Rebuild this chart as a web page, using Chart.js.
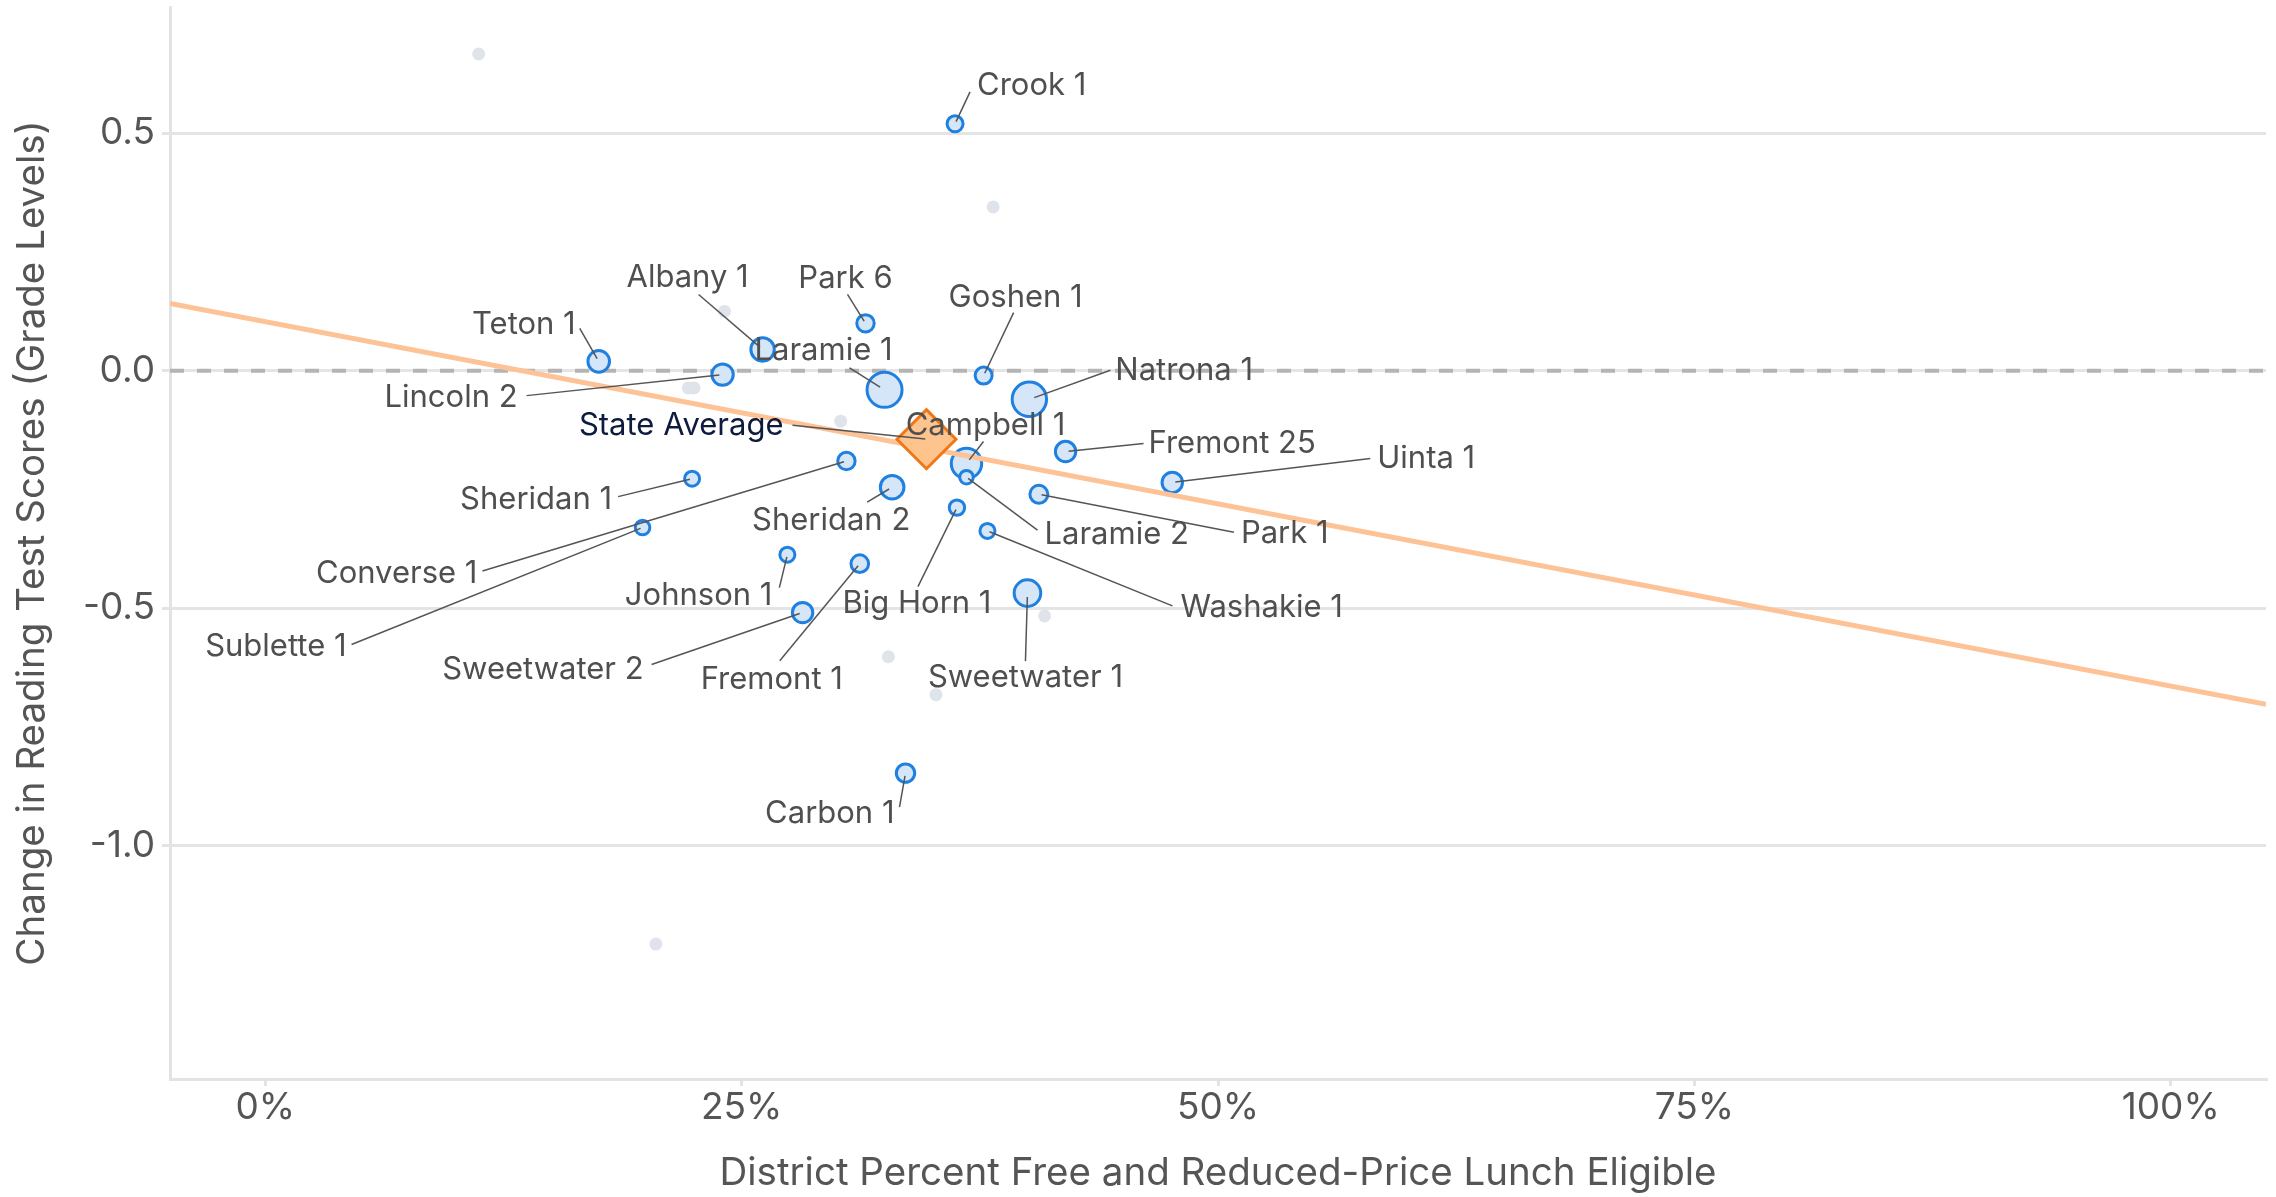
<!DOCTYPE html>
<html>
<head>
<meta charset="utf-8">
<script src="https://cdn.jsdelivr.net/npm/chart.js@4.4.1/dist/chart.umd.min.js"></script>
<style>
  html, body { margin: 0; padding: 0; background: #fff; }
  #wrap { width: 2276px; height: 1197px; position: relative; }
</style>
</head>
<body>
<div id="wrap"><canvas id="chart"></canvas></div>
<script>
// ---- data ----
const districts = ['Crook 1','Teton 1','Albany 1','Park 6','Goshen 1','Laramie 1','Lincoln 2','Natrona 1',
  'Campbell 1','Fremont 25','Uinta 1','Sheridan 1','Sheridan 2','Converse 1','Sublette 1','Laramie 2',
  'Park 1','Big Horn 1','Washakie 1','Johnson 1','Fremont 1','Sweetwater 2','Sweetwater 1','Carbon 1'];
const frlPct = [36.2, 17.5, 26.1, 31.5, 37.7, 32.5, 24.0, 40.1,
  36.8, 42.0, 47.6, 22.4, 32.9, 30.5, 19.8, 36.8,
  40.6, 36.3, 37.9, 27.4, 31.2, 28.2, 40.0, 33.6];
const readingChange = [0.52, 0.02, 0.045, 0.10, -0.01, -0.04, -0.008, -0.06,
  -0.195, -0.17, -0.235, -0.227, -0.245, -0.19, -0.33, -0.224,
  -0.26, -0.288, -0.337, -0.387, -0.406, -0.509, -0.468, -0.847];
const enrollment = [1210, 3500, 4480, 1670, 1530, 13780, 3390, 13180,
  9490, 2910, 2910, 930, 4600, 1670, 820, 590,
  1890, 1040, 930, 930, 1740, 2910, 6540, 2050];

// small districts, unlabeled
const otherFrl    = [11.2, 38.2, 24.1, 22.2, 22.5, 30.2, 32.7, 35.2, 40.9, 20.5];
const otherChange = [0.667, 0.345, 0.125, -0.036, -0.036, -0.106, -0.602, -0.682, -0.516, -1.207];

const stateFrl = [34.7];
const stateChange = [-0.144];

// fitted line
const trendFrl = [-5, 105];
const trendChange = [0.142, -0.702];

const xTicks = [0, 25, 50, 75, 100];
const yTicks = [-1.0, -0.5, 0.0, 0.5];

// label placement: [textDx, textDy, align, lineDx, lineDy] px from the point
const labelSpots = {
  'Crook 1':      [22, -38, 'left', 15, -32],
  'Teton 1':      [-23, -37, 'right', -19, -33],
  'Albany 1':     [-75, -72, 'center', -64, -55],
  'Park 6':       [-20, -45, 'center', -18, -29],
  'Goshen 1':     [32, -78, 'center', 30, -63],
  'Laramie 1':    [-61, -39, 'center', -35, -22],
  'Lincoln 2':    [-205, 23, 'right', -196, 21],
  'Natrona 1':    [86, -29, 'left', 81, -29],
  'Campbell 1':   [19, -38, 'center', 17, -22],
  'Fremont 25':   [83, -8, 'left', 78, -8],
  'Uinta 1':      [205, -24, 'left', 198, -24],
  'Sheridan 1':   [-80, 21, 'right', -74, 18],
  'Sheridan 2':   [-61, 33, 'center', -25, 15],
  'Converse 1':   [-369, 113, 'right', -364, 110],
  'Sublette 1':   [-296, 119, 'right', -291, 117],
  'Laramie 2':    [78, 57, 'left', 71, 53],
  'Park 1':       [202, 39, 'left', 195, 38],
  'Big Horn 1':   [-40, 96, 'center', -39, 79],
  'Washakie 1':   [193, 77, 'left', 185, 75],
  'Johnson 1':    [-15, 41, 'right', -8, 33],
  'Fremont 1':    [-88, 116, 'center', -80, 97],
  'Sweetwater 2': [-159, 57, 'right', -151, 52],
  'Sweetwater 1': [-2, 85, 'center', -2, 68],
  'Carbon 1':     [-11, 41, 'right', -6, 34],
  'State Average':[-143, -14, 'right', -134, -14]
};

const FONT = 'Inter, "Noto Sans", sans-serif';
const TEXT = '#4f4f4f';
const bubbleR = n => 4 + 0.115 * Math.sqrt(n);

const labelPlugin = {
  id: 'labels',
  afterDatasetsDraw(chart) {
    const ctx = chart.ctx;
    const pts = chart.getDatasetMeta(2).data;
    const diamond = chart.getDatasetMeta(0).data[0];
    const items = districts.map((name, i) => ({ name, el: pts[i], r: pts[i].options.radius, color: TEXT }));
    items.push({ name: 'State Average', el: diamond, r: 4, color: '#0d1b3e' });

    ctx.save();
    ctx.strokeStyle = '#555';
    ctx.lineWidth = 1.5;
    items.forEach(it => {
      const s = labelSpots[it.name];
      const sx = it.el.x + s[3], sy = it.el.y + s[4];
      const dx = sx - it.el.x, dy = sy - it.el.y, d = Math.hypot(dx, dy);
      const k = (it.r * 0.3) / d;
      ctx.beginPath();
      ctx.moveTo(sx, sy);
      ctx.lineTo(it.el.x + dx * k, it.el.y + dy * k);
      ctx.stroke();
    });
    ctx.font = '31px ' + FONT;
    ctx.textBaseline = 'middle';
    items.forEach(it => {
      const s = labelSpots[it.name];
      ctx.fillStyle = it.color;
      ctx.textAlign = s[2];
      ctx.fillText(it.name, it.el.x + s[0], it.el.y + s[1]);
    });

    // axis titles
    const a = chart.chartArea;
    ctx.fillStyle = '#555';
    ctx.font = '38.5px ' + FONT;
    ctx.textAlign = 'center';
    ctx.fillText('District Percent Free and Reduced-Price Lunch Eligible', (a.left + a.right) / 2, 1173);
    ctx.translate(32, (a.top + a.bottom) / 2);
    ctx.rotate(-Math.PI / 2);
    ctx.fillText('Change in Reading Test Scores (Grade Levels)', 0, 0);
    ctx.restore();
  }
};

new Chart(document.getElementById('chart'), {
  type: 'scatter',
  data: {
    datasets: [
      {
        label: 'State Average', order: 0,
        data: stateFrl.map((x, i) => ({ x, y: stateChange[i] })),
        pointStyle: 'rectRot', pointRadius: 29.5,
        backgroundColor: '#fdc48e', borderColor: '#f07616', borderWidth: 3
      },
      {
        type: 'line', label: 'Trend', order: 1,
        data: trendFrl.map((x, i) => ({ x, y: trendChange[i] })),
        borderColor: '#fdc396', borderWidth: 5, pointRadius: 0, fill: false
      },
      {
        type: 'bubble', label: 'Districts', order: 2,
        data: districts.map((d, i) => ({ x: frlPct[i], y: readingChange[i], r: bubbleR(enrollment[i]) })),
        backgroundColor: '#d4e6f8', borderColor: '#1f80e0', borderWidth: 3
      },
      {
        label: 'Other', order: 3,
        data: otherFrl.map((x, i) => ({ x, y: otherChange[i] })),
        pointRadius: 6.5, backgroundColor: '#dfe4ea', borderWidth: 0
      },
      {
        type: 'line', label: 'Zero', order: 4,
        data: [{ x: -5, y: 0 }, { x: 105, y: 0 }],
        borderColor: '#b4b4b4', borderWidth: 4, borderDash: [14, 13], pointRadius: 0, fill: false
      }
    ]
  },
  options: {
    responsive: true,
    maintainAspectRatio: false,
    devicePixelRatio: 1,
    animation: false,
    events: [],
    layout: { autoPadding: false, padding: { top: 7, right: 10, left: 0, bottom: 0 } },
    plugins: { legend: { display: false }, tooltip: { enabled: false } },
    scales: {
      x: {
        type: 'linear', min: -5, max: 105,
        afterBuildTicks: s => { s.ticks = xTicks.map(v => ({ value: v })); },
        afterFit: s => { s.height = 118; s.paddingLeft = 0; s.paddingRight = 0; },
        grid: { drawOnChartArea: false, drawTicks: true, tickLength: 7, color: '#e3e3e3', lineWidth: 3 },
        border: { display: true, color: '#e3e3e3', width: 3 },
        ticks: { padding: 0, color: '#555', font: { family: FONT, size: 37 }, callback: v => v + '%' }
      },
      y: {
        type: 'linear', min: -1.491, max: 0.766,
        afterBuildTicks: s => { s.ticks = yTicks.map(v => ({ value: v })); },
        afterFit: s => { s.width = 170; s.paddingTop = 0; s.paddingBottom = 0; },
        grid: { drawTicks: true, tickLength: 8, color: '#e4e4e4', lineWidth: 3 },
        border: { display: true, color: '#e3e3e3', width: 3 },
        ticks: { padding: 7, color: '#555', font: { family: FONT, size: 37 }, callback: v => v.toFixed(1) }
      }
    }
  },
  plugins: [labelPlugin]
});
</script>
</body>
</html>
